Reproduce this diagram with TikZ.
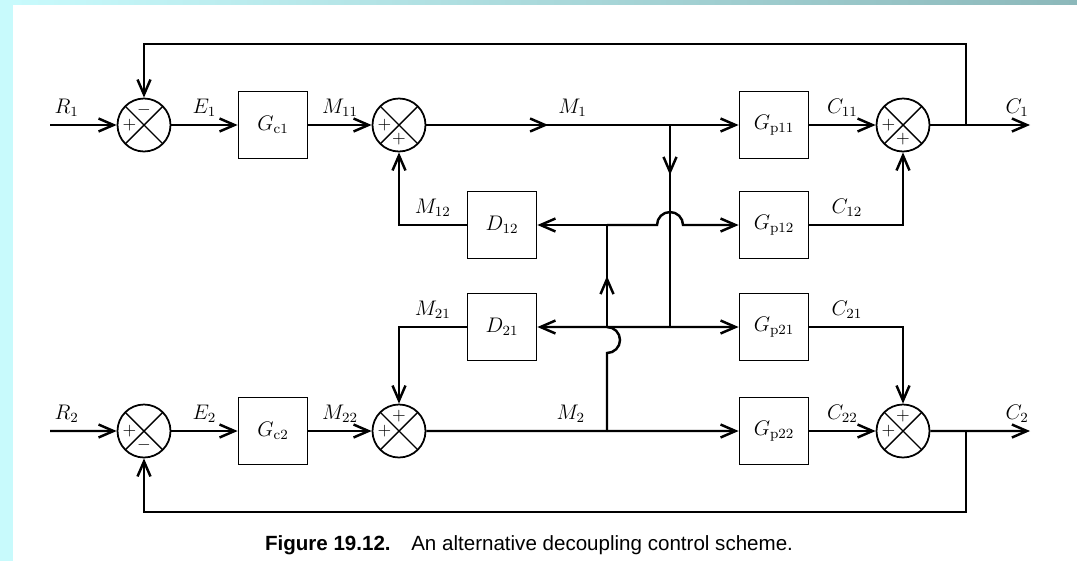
\documentclass[tikz,border=0pt]{standalone}
\usepackage{fontspec}
\newfontfamily\capfont{Liberation Sans}
\usepackage{xcolor}
\usepackage{tikz}
\usetikzlibrary{arrows.meta, positioning, decorations.markings}

\definecolor{pagecyan}{RGB}{200,250,252}
\definecolor{bandgrey}{RGB}{140,184,186}

\begin{document}
\begin{tikzpicture}[node distance=2.58cm, auto,
        >={Straight Barb[length=3mm,width=2.6mm]},
        block/.style={rectangle, draw, line width=1pt, minimum width=1.38cm, minimum height=1.34cm, inner sep=0pt, font=\fontsize{11.5}{13}\selectfont},
        sum/.style={circle, draw, line width=1pt, minimum size=1.06cm, inner sep=0pt,
            path picture={\draw[line width=0.8pt] (path picture bounding box.north west) -- (path picture bounding box.south east)
                (path picture bounding box.north east) -- (path picture bounding box.south west);}},
        sgn/.style={font=\normalsize, inner sep=0pt},
        sig/.style={above=2pt, inner sep=2pt, font=\fontsize{11.5}{13}\selectfont},
        wire/.style={draw, line width=1.4pt},
        line/.style={wire, ->},
        mid/.style={postaction={decorate, decoration={markings, mark=at position 0.5 with {\arrow{>}}}}}]

        % page
        \useasboundingbox (0,0) rectangle (21.54,-11.22);
        \fill [pagecyan] (0,0) rectangle (21.54,-11.22);
        \shade [left color=pagecyan, right color=bandgrey] (0.26,0) rectangle (21.54,-0.1);
        \fill [white] (0.26,-0.1) rectangle (21.54,-11.22);

        % loop 1
        \node [sum, label={[sgn, xshift=-0.29cm]center:$+$}, label={[sgn, yshift=0.29cm]center:$-$}] (sumR1) at (2.88,-2.5) {};
        \node [block, right of=sumR1] (gc1) {$G_{\mathrm{c}1}$};
        \node [sum, right of=gc1, node distance=2.52cm, label={[sgn, xshift=-0.29cm]center:$+$}, label={[sgn, yshift=-0.29cm]center:$+$}] (sumM1) {};
        \node [block, right of=sumM1, node distance=7.5cm] (gp11) {$G_{\mathrm{p}11}$};
        \node [sum, right of=gp11, label={[sgn, xshift=-0.29cm]center:$+$}, label={[sgn, yshift=-0.29cm]center:$+$}] (sumC1) {};

        % cross blocks
        \node [block, below of=gp11, node distance=2cm] (gp12) {$G_{\mathrm{p}12}$};
        \node [block, below of=gp12, node distance=2.04cm] (gp21) {$G_{\mathrm{p}21}$};
        \node [block, below of=gp21, node distance=2.08cm] (gp22) {$G_{\mathrm{p}22}$};
        \node [block] (d12) at (10.04,-4.5) {$D_{12}$};
        \node [block, below of=d12, node distance=2.04cm] (d21) {$D_{21}$};

        % loop 2
        \node [sum, below of=sumR1, node distance=6.12cm, label={[sgn, xshift=-0.29cm]center:$+$}, label={[sgn, yshift=-0.29cm]center:$-$}] (sumR2) {};
        \node [block, right of=sumR2] (gc2) {$G_{\mathrm{c}2}$};
        \node [sum, right of=gc2, node distance=2.52cm, label={[sgn, xshift=-0.29cm]center:$+$}, label={[sgn, yshift=0.29cm]center:$+$}] (sumM2) {};
        \node [sum, right of=gp22, label={[sgn, xshift=-0.29cm]center:$+$}, label={[sgn, yshift=0.29cm]center:$+$}] (sumC2) {};

        \coordinate (in1) at (1.0,-2.5);
        \coordinate (out1) at (20.6,-2.5);
        \coordinate (fb1) at (19.32,-2.5);
        \coordinate (top1) at (2.88,-0.88);
        \coordinate (in2) at (1.0,-8.62);
        \coordinate (out2) at (20.6,-8.62);
        \coordinate (fb2) at (19.32,-8.62);
        \coordinate (bot2) at (2.88,-10.24);
        \coordinate (m1a) at (13.40,-2.5);
        \coordinate (m1b) at (13.40,-4.5);
        \coordinate (m1c) at (13.40,-6.54);
        \coordinate (m2a) at (12.14,-8.62);
        \coordinate (m2b) at (12.14,-4.5);

        % Paths
        \path [line] (in1) -- node [sig, pos=0.25] (lR1) {$R_1$} (sumR1);
        \path [line] (sumR1) -- node [sig] (lE1) {$E_1$} (gc1);
        \path [line] (gc1) -- node [sig] (lM11) {$M_{11}$} (sumM1);
        \path [wire, mid] (sumM1) -- node [sig, pos=0.6] (lM1) {$M_1$} (m1a);
        \path [line] (m1a) -- (gp11);
        \path [line] (gp11) -- node [sig] (lC11) {$C_{11}$} (sumC1);
        \path [line] (sumC1) -- node [sig, pos=0.87] (lC1) {$C_1$} (out1);
        \path [line] (fb1) |- (top1) -- (sumR1);

        \path [line] (in2) -- node [sig, pos=0.25] (lR2) {$R_2$} (sumR2);
        \path [line] (sumR2) -- node [sig] (lE2) {$E_2$} (gc2);
        \path [line] (gc2) -- node [sig] (lM22) {$M_{22}$} (sumM2);
        \path [wire] (sumM2) -- node [sig, pos=0.8] (lM2) {$M_2$} (m2a);
        \path [line] (m2a) -- (gp22);
        \path [line] (gp22) -- node [sig] (lC22) {$C_{22}$} (sumC2);
        \path [line] (sumC2) -- node [sig, pos=0.87] (lC2) {$C_2$} (out2);
        \path [line] (fb2) |- (bot2) -- (sumR2);

        % M1 branch
        \path [wire, mid] (m1a) -- (m1b);
        \path [wire] (m1b) -- (m1c);
        \path [line] (m1c) -- (gp21);
        \path [line] (m1c) -- (d21);

        % M2 branch, jumping the crossings
        \path [wire] (m2a) -- ++(0,1.56) arc [start angle=-90, end angle=90, radius=0.26] coordinate (m2c);
        \path [wire, mid] (m2c) -- (m2b);
        \path [line] (m2b) -- (d12);
        \path [line] (m2b) -- ++(1.0,0) arc [start angle=180, end angle=0, radius=0.26] -- (gp12);

        % interactions
        \path [line] (d12) -| node [sig, pos=0.25] (lM12) {$M_{12}$} (sumM1);
        \path [line] (d21) -| node [sig, pos=0.25] (lM21) {$M_{21}$} (sumM2);
        \path [line] (gp12) -| node [sig, pos=0.2] (lC12) {$C_{12}$} (sumC1);
        \path [line] (gp21) -| node [sig, pos=0.2] (lC21) {$C_{21}$} (sumC2);

        \node (caption) at (10.58,-10.9) {\capfont\fontsize{11.7}{14}\selectfont\textbf{Figure 19.12.}\quad An alternative decoupling control scheme.};

    \end{tikzpicture}
\end{document}
